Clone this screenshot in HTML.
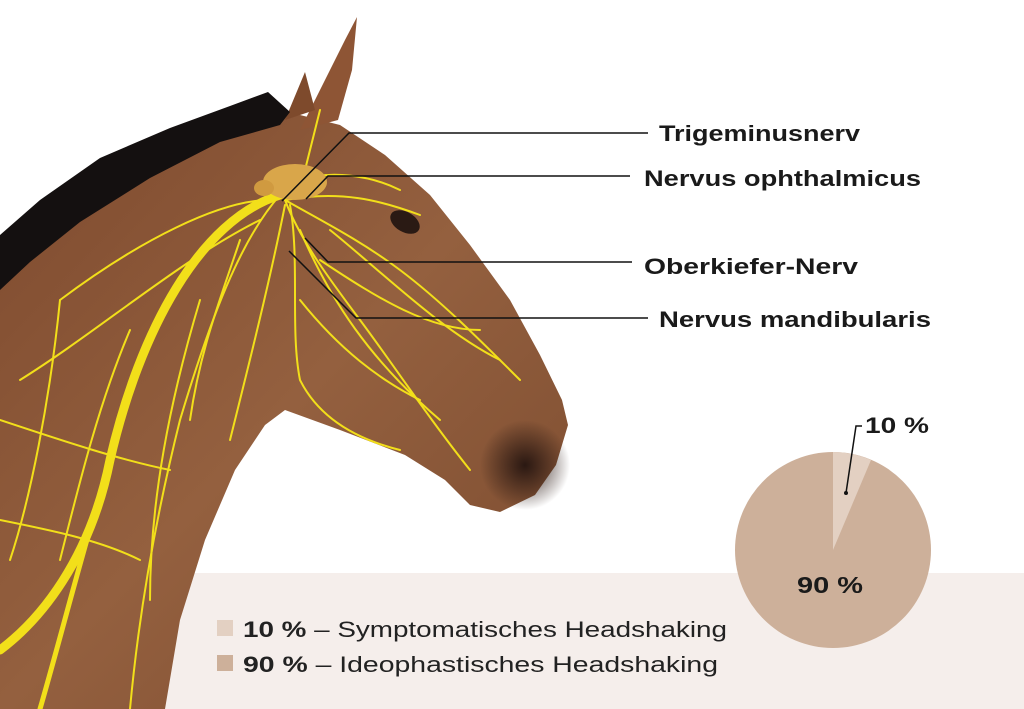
<!DOCTYPE html>
<html><head><meta charset="utf-8"><style>
html,body{margin:0;padding:0;background:#fff}
body{width:1024px;height:709px;overflow:hidden;position:relative;font-family:"Liberation Sans",sans-serif}
</style></head><body>
<svg width="1024" height="709" viewBox="0 0 1024 709" style="position:absolute;left:0;top:0">
<defs>
<linearGradient id="skin" x1="0" y1="0" x2="1" y2="1">
<stop offset="0" stop-color="#7e4a2e"/><stop offset="0.5" stop-color="#94603f"/><stop offset="1" stop-color="#7a4a2e"/>
</linearGradient>
<radialGradient id="muz" cx="0.5" cy="0.5" r="0.5"><stop offset="0" stop-color="#2a1812"/><stop offset="1" stop-color="#2a1812" stop-opacity="0"/></radialGradient>
</defs>
<rect x="0" y="573" width="1024" height="136" fill="#f5eeeb"/>
<path d="M0,250 L80,200 L170,150 L260,118 L300,115 L340,125 L385,155 L430,195 L470,245 L510,300 L540,355 L562,400 L568,425 L556,465 L535,495 L500,512 L470,505 L445,480 L405,455 L340,430 L285,410 L265,425 L235,470 L205,540 L180,620 L165,709 L0,709 Z" fill="url(#skin)"/>
<ellipse cx="525" cy="465" rx="45" ry="45" fill="url(#muz)"/>
<path d="M300,130 L345,40 L357,17 L352,70 L338,120 Z" fill="#8e5535"/>
<path d="M285,120 L305,72 L315,110 Z" fill="#7e4a2c"/>
<path d="M0,235 L40,200 L100,158 L170,128 L230,106 L268,92 L290,112 L280,125 L220,142 L150,178 L80,222 L30,262 L0,290 Z" fill="#141010"/>
<ellipse cx="405" cy="222" rx="16" ry="10" fill="#2a1a14" transform="rotate(30 405 222)"/>
<g fill="none" stroke="#f2df1a" stroke-linecap="round">
<path d="M280,195 C200,220 140,330 110,460 C90,560 40,620 0,650" stroke-width="9"/>
<path d="M110,460 C80,560 60,640 40,709" stroke-width="5"/>
<g stroke-width="2">
<path d="M285,200 C300,240 330,280 360,320 C390,360 430,420 470,470"/>
<path d="M285,200 C320,220 360,240 400,270 C440,300 480,340 520,380"/>
<path d="M290,205 C300,260 290,330 300,380 C320,420 360,440 400,450"/>
<path d="M285,200 C340,190 380,200 420,215"/>
<path d="M280,195 C240,240 210,320 180,420 C160,500 140,600 130,709"/>
<path d="M270,200 C220,200 140,240 60,300"/>
<path d="M260,220 C180,260 100,330 20,380"/>
<path d="M285,205 C270,280 250,360 230,440"/>
<path d="M300,230 C330,300 370,360 440,420"/>
<path d="M330,230 C380,270 440,330 500,360"/>
<path d="M60,300 C50,400 30,500 10,560"/>
<path d="M200,300 C170,400 150,500 150,600"/>
<path d="M0,420 C60,440 120,460 170,470"/>
<path d="M0,520 C50,530 100,540 140,560"/>
<path d="M300,180 C330,170 370,175 400,190"/>
<path d="M300,190 L320,110"/>
<path d="M320,260 C380,300 430,330 480,330"/>
<path d="M300,300 C340,350 380,380 420,400"/>
<path d="M240,240 C220,300 200,350 190,420"/>
<path d="M130,330 C100,400 80,480 60,560"/>
</g></g>
<ellipse cx="295" cy="182" rx="32" ry="18" fill="#d9a64a"/>
<ellipse cx="264" cy="188" rx="10" ry="8" fill="#d09a40"/>
<g stroke="#111" stroke-width="1.5" fill="none">
<polyline points="282,201 349,133 648,133"/>
<polyline points="306,199 328,176 630,176"/>
<polyline points="305,238 328,262 632,262"/>
<polyline points="289,251 356,318 648,318"/>
</g>
<g font-weight="bold" font-size="22" fill="#1a1a1a" lengthAdjust="spacingAndGlyphs">
<text x="659" y="141" textLength="201" lengthAdjust="spacingAndGlyphs">Trigeminusnerv</text>
<text x="644" y="186" textLength="277" lengthAdjust="spacingAndGlyphs">Nervus ophthalmicus</text>
<text x="644" y="274" textLength="214" lengthAdjust="spacingAndGlyphs">Oberkiefer-Nerv</text>
<text x="659" y="327" textLength="272" lengthAdjust="spacingAndGlyphs">Nervus mandibularis</text>
</g>
<circle cx="833" cy="550" r="98" fill="#cdb09a"/>
<path d="M833,550 L833,452 A98,98 0 0 1 871,460 Z" fill="#e3d0c2"/>
<polyline points="846,493 856,426 862,426" fill="none" stroke="#111" stroke-width="1.5"/>
<circle cx="846" cy="493" r="2" fill="#111"/>
<text x="865" y="433" font-weight="bold" font-size="22" fill="#1a1a1a" textLength="64" lengthAdjust="spacingAndGlyphs">10 %</text>
<text x="797" y="593" font-weight="bold" font-size="23" fill="#1a1a1a" textLength="66" lengthAdjust="spacingAndGlyphs">90 %</text>
<rect x="217" y="620" width="16" height="16" fill="#e3d0c2"/>
<rect x="217" y="655" width="16" height="16" fill="#cdb09a"/>
<text x="243" y="637" font-size="22" fill="#222" textLength="484" lengthAdjust="spacingAndGlyphs"><tspan font-weight="bold">10 %</tspan> – Symptomatisches Headshaking</text>
<text x="243" y="672" font-size="22" fill="#222" textLength="475" lengthAdjust="spacingAndGlyphs"><tspan font-weight="bold">90 %</tspan> – Ideophastisches Headshaking</text>
</svg>
</body></html>
